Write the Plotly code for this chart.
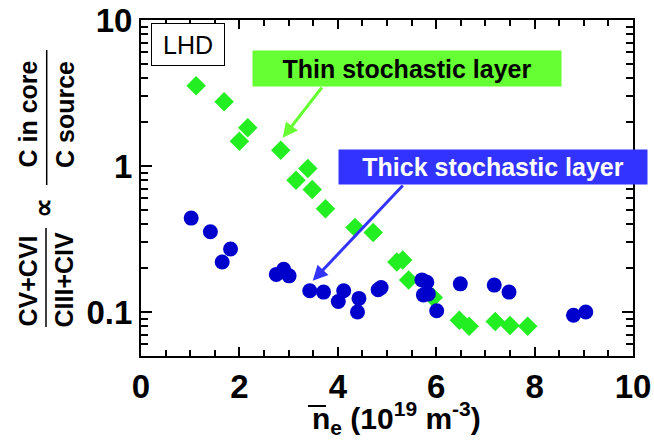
import plotly.graph_objects as go

# Data
thin_x = [1.12, 1.69, 2.17, 2.00, 2.84, 3.39, 3.15, 3.48, 3.75, 4.35,
          4.72, 5.20, 5.32, 5.44, 5.94, 6.47, 6.67, 7.20, 7.50, 7.86]
thin_y = [3.55, 2.76, 1.83, 1.48, 1.28, 0.96, 0.80, 0.69, 0.51, 0.38,
          0.35, 0.22, 0.227, 0.166, 0.126, 0.088, 0.080, 0.086, 0.081, 0.080]

thick_x = [1.02, 1.41, 1.82, 1.65, 2.75, 2.90, 3.01, 3.43, 3.71, 4.12,
           4.01, 4.43, 4.40, 4.82, 4.88, 5.71, 5.81, 5.74, 5.84, 6.01,
           6.49, 7.18, 7.48, 8.79, 9.04]
thick_y = [0.44, 0.355, 0.27, 0.22, 0.181, 0.196, 0.177, 0.14, 0.137, 0.14,
           0.118, 0.124, 0.10, 0.142, 0.147, 0.166, 0.16, 0.131, 0.133, 0.102,
           0.156, 0.153, 0.137, 0.095, 0.10]

x_ticks = [0, 2, 4, 6, 8, 10]
y_ticks = [0.1, 1, 10]
y_tick_labels = ["0.1", "1", "10"]
y_minor = [0.06, 0.07, 0.08, 0.09, 0.2, 0.3, 0.4, 0.5, 0.6, 0.7, 0.8, 0.9,
           2, 3, 4, 5, 6, 7, 8, 9]

FONT = "Liberation Sans, Arial, sans-serif"

W, H = 654, 446
# plot box in page pixels
L, R, T, B = 141, 633, 20, 356


def px(x):
    return (x - L) / (R - L)


def py(y):
    return (B - y) / (B - T)


fig = go.Figure()

fig.add_trace(go.Scatter(x=thin_x, y=thin_y, mode="markers", name="Thin",
                         marker=dict(symbol="diamond", size=15, color="#22ee22")))
fig.add_trace(go.Scatter(x=thick_x, y=thick_y, mode="markers", name="Thick",
                         marker=dict(symbol="circle", size=15, color="#0000cc")))


def label(x, y, text, size=25, angle=0, **kw):
    return dict(x=px(x), y=py(y), xref="paper", yref="paper", text=text,
                xanchor="center", yanchor="middle", textangle=angle,
                showarrow=False, font=dict(size=size, color=kw.pop("color", "black"),
                                           family=FONT), **kw)


annotations = [
    label(188, 44.5, "LHD", bordercolor="black", borderwidth=1, borderpad=2,
          width=68, height=37, bgcolor="white"),
    # arrows (y in log10 units)
    dict(x=2.88, y=0.193, ax=3.70, ay=0.548, xref="x", yref="y", axref="x", ayref="y",
         text="", showarrow=True, arrowhead=2, arrowsize=1, arrowwidth=3,
         arrowcolor="#66ff33"),
    dict(x=3.49, y=-0.786, ax=5.35, ay=-0.123, xref="x", yref="y", axref="x", ayref="y",
         text="", showarrow=True, arrowhead=2, arrowsize=1, arrowwidth=3,
         arrowcolor="#3333ff"),
    label(407, 68.5, "<b>Thin stochastic layer</b>", bgcolor="#66ff33",
          width=304, height=31, borderpad=2),
    label(493, 167, "<b>Thick stochastic layer</b>", color="white", bgcolor="#3333ff",
          width=304, height=30, borderpad=2),
    # y axis title (two fractions)
    label(27.5, 114, "<b>C in core</b>", angle=-90),
    label(64.5, 114.5, "<b>C source</b>", angle=-90),
    label(43, 208, "<b>∝</b>", size=28, angle=-90),
    label(27.5, 281, "<b>CV+CVI</b>", angle=-90),
    label(63.5, 280, "<b>CIII+CIV</b>", angle=-90),
    # x axis title
    label(396, 418, "<b>n<sub>e</sub> (10<sup>19</sup> m<sup>-3</sup>)</b>", size=30),
]

shapes = [
    dict(type="line", xref="paper", yref="paper", x0=px(46.7), x1=px(46.7),
         y0=py(185), y1=py(50), line=dict(color="black", width=1.5)),
    dict(type="line", xref="paper", yref="paper", x0=px(46), x1=px(46),
         y0=py(327), y1=py(228), line=dict(color="black", width=1.5)),
    # overline on n
    dict(type="line", xref="paper", yref="paper", x0=px(308), x1=px(326),
         y0=py(406), y1=py(406), line=dict(color="black", width=2)),
]

fig.update_layout(
    width=W, height=H,
    margin=dict(l=L, r=W - R, t=T, b=H - B, autoexpand=False),
    plot_bgcolor="white", paper_bgcolor="white",
    showlegend=False,
    font=dict(family=FONT, color="black"),
    annotations=annotations,
    shapes=shapes,
    xaxis=dict(range=[0, 10], tickvals=x_ticks,
               ticktext=["<b>%d</b>" % t for t in x_ticks],
               ticks="inside", ticklen=9, tickwidth=1.5, tickcolor="black",
               minor=dict(ticks="inside", dtick=0.5, ticklen=6, tickwidth=1.5, tickcolor="black"),
               showline=True, linecolor="black", linewidth=2, mirror="ticks",
               showgrid=False, zeroline=False, ticklabeloverflow="allow",
               tickfont=dict(size=33, family=FONT, color="black")),
    yaxis=dict(type="log", range=[-1.301, 1], tickvals=y_ticks,
               ticktext=["<b>%s</b>" % t for t in y_tick_labels],
               ticks="inside", ticklen=11, tickwidth=1.5, tickcolor="black",
               minor=dict(ticks="inside", tickvals=y_minor, ticklen=7, tickwidth=1.5,
                          tickcolor="black"),
               showline=True, linecolor="black", linewidth=2, mirror="ticks",
               showgrid=False, zeroline=False, ticklabeloverflow="allow",
               tickfont=dict(size=33, family=FONT, color="black")),
)

# drop the default 8px page margin so the figure fills the window exactly
fig.write_html("out.html", config={"displayModeBar": False},
               post_script="document.body.style.margin = '0';")
